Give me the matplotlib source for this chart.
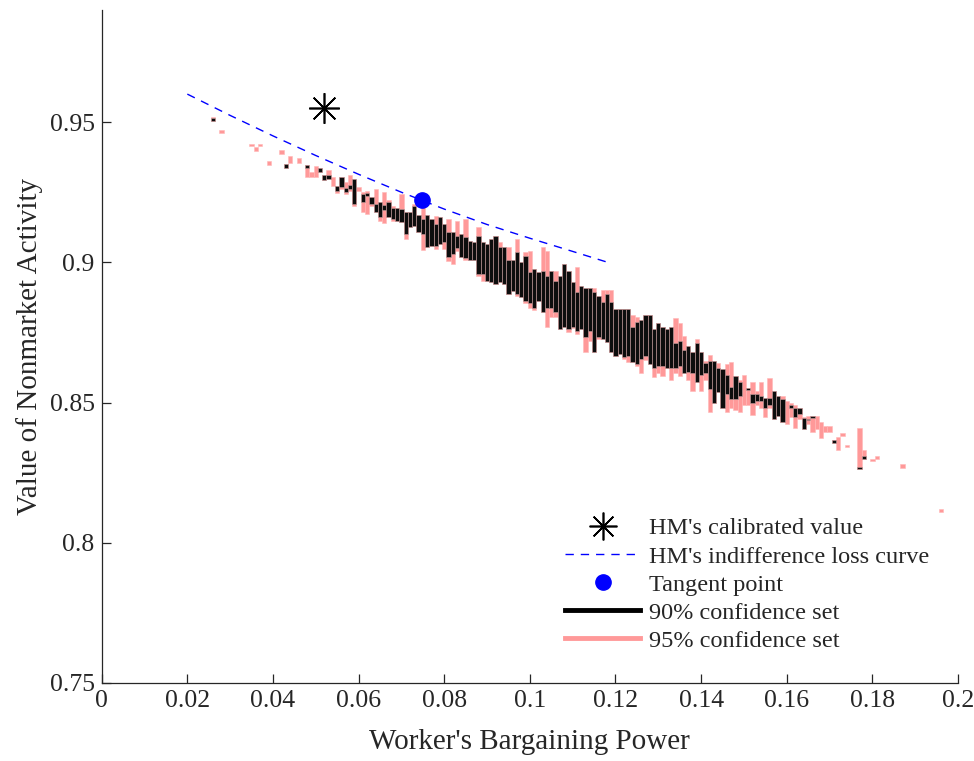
import numpy as np
import matplotlib
matplotlib.use('Agg')
import matplotlib.pyplot as plt
from matplotlib.lines import Line2D
from matplotlib.ticker import FuncFormatter

plt.rcParams['font.family'] = ['Liberation Serif', 'DejaVu Serif']
plt.rcParams['font.size'] = 18.5

# 95% confidence set: x, lower, upper
x95 = [0.026, 0.028, 0.035, 0.036, 0.037, 0.039, 0.042, 0.043, 0.044, 0.046,
       0.048, 0.049, 0.050, 0.051, 0.052, 0.053, 0.054, 0.055, 0.056, 0.057,
       0.058, 0.059, 0.060, 0.061, 0.062, 0.063, 0.064, 0.065, 0.066, 0.067,
       0.068, 0.069, 0.070, 0.071, 0.072, 0.073, 0.074, 0.075, 0.076, 0.077,
       0.078, 0.079, 0.080, 0.081, 0.082, 0.083, 0.084, 0.085, 0.086, 0.087,
       0.088, 0.089, 0.090, 0.091, 0.092, 0.093, 0.094, 0.095, 0.096, 0.097,
       0.098, 0.099, 0.100, 0.101, 0.102, 0.103, 0.104, 0.105, 0.106, 0.107,
       0.108, 0.109, 0.110, 0.111, 0.112, 0.113, 0.114, 0.115, 0.116, 0.117,
       0.118, 0.119, 0.120, 0.121, 0.122, 0.123, 0.124, 0.125, 0.126, 0.127,
       0.128, 0.129, 0.130, 0.131, 0.132, 0.133, 0.134, 0.135, 0.136, 0.137,
       0.138, 0.139, 0.140, 0.141, 0.142, 0.143, 0.144, 0.145, 0.146, 0.147,
       0.148, 0.149, 0.150, 0.151, 0.152, 0.153, 0.154, 0.155, 0.156, 0.157,
       0.158, 0.159, 0.160, 0.161, 0.162, 0.163, 0.164, 0.165, 0.166, 0.167,
       0.168, 0.169, 0.170, 0.171, 0.172, 0.173, 0.174, 0.177, 0.178, 0.180,
       0.181, 0.187, 0.196]
lo95 = [0.9503, 0.9463, 0.9414, 0.9396, 0.9414, 0.9346, 0.9385, 0.9335, 0.9353, 0.9353,
        0.9303, 0.9303, 0.9303, 0.9321, 0.9292, 0.9296, 0.9271, 0.9246, 0.9260, 0.9242,
        0.9253, 0.9200, 0.9253, 0.9178, 0.9171, 0.9200, 0.9178, 0.9146, 0.9140, 0.9160,
        0.9146, 0.9146, 0.9143, 0.9082, 0.9125, 0.9128, 0.9107, 0.9043, 0.9053, 0.9057,
        0.9046, 0.9064, 0.9046, 0.9004, 0.8993, 0.9039, 0.9018, 0.9010, 0.9010, 0.9010,
        0.8950, 0.8932, 0.8932, 0.8929, 0.8922, 0.8929, 0.8922, 0.8886, 0.8897, 0.8880,
        0.8875, 0.8854, 0.8836, 0.8829, 0.8861, 0.8822, 0.8771, 0.8804, 0.8804, 0.8761,
        0.8771, 0.8750, 0.8765, 0.8743, 0.8761, 0.8682, 0.8718, 0.8682, 0.8725, 0.8725,
        0.8715, 0.8682, 0.8665, 0.8672, 0.8654, 0.8643, 0.8643, 0.8630, 0.8604, 0.8651,
        0.8636, 0.8590, 0.8604, 0.8593, 0.8625, 0.8582, 0.8607, 0.8593, 0.8607, 0.8582,
        0.8543, 0.8572, 0.8543, 0.8580, 0.8468, 0.8500, 0.8536, 0.8482, 0.8468, 0.8482,
        0.8475, 0.8468, 0.8490, 0.8490, 0.8454, 0.8490, 0.8482, 0.8447, 0.8482, 0.8441,
        0.8451, 0.8430, 0.8422, 0.8447, 0.8411, 0.8440, 0.8404, 0.8422, 0.8394, 0.8404,
        0.8373, 0.8394, 0.8394, 0.8355, 0.8330, 0.8380, 0.8340, 0.8262, 0.8300, 0.8290,
        0.8300, 0.8266, 0.8110]
hi95 = [0.9520, 0.9471, 0.9421, 0.9410, 0.9421, 0.9360, 0.9399, 0.9349, 0.9381, 0.9371,
        0.9346, 0.9321, 0.9342, 0.9338, 0.9310, 0.9331, 0.9303, 0.9271, 0.9303, 0.9285,
        0.9310, 0.9296, 0.9267, 0.9250, 0.9253, 0.9232, 0.9260, 0.9217, 0.9250, 0.9221,
        0.9200, 0.9193, 0.9242, 0.9178, 0.9178, 0.9207, 0.9170, 0.9207, 0.9170, 0.9153,
        0.9164, 0.9160, 0.9135, 0.9153, 0.9110, 0.9146, 0.9100, 0.9153, 0.9075, 0.9071,
        0.9125, 0.9071, 0.9064, 0.9082, 0.9093, 0.9072, 0.9053, 0.9053, 0.9010, 0.9082,
        0.9000, 0.9036, 0.9039, 0.8975, 0.8964, 0.9053, 0.9039, 0.8968, 0.8968, 0.8950,
        0.8993, 0.8968, 0.8929, 0.8982, 0.8914, 0.8910, 0.8910, 0.8910, 0.8879, 0.8900,
        0.8900, 0.8900, 0.8832, 0.8832, 0.8832, 0.8832, 0.8814, 0.8804, 0.8793, 0.8811,
        0.8811, 0.8761, 0.8782, 0.8771, 0.8761, 0.8771, 0.8800, 0.8782, 0.8736, 0.8700,
        0.8679, 0.8725, 0.8679, 0.8650, 0.8668, 0.8650, 0.8640, 0.8618, 0.8636, 0.8643,
        0.8593, 0.8579, 0.8600, 0.8552, 0.8575, 0.8540, 0.8572, 0.8518, 0.8589, 0.8541,
        0.8522, 0.8525, 0.8504, 0.8500, 0.8493, 0.8482, 0.8450, 0.8451, 0.8451, 0.8451,
        0.8430, 0.8418, 0.8418, 0.8366, 0.8377, 0.8390, 0.8350, 0.8411, 0.8330, 0.8300,
        0.8310, 0.8280, 0.8120]

# 90% confidence set: x, lower, upper
x90 = [0.026, 0.043, 0.048, 0.051, 0.052, 0.053, 0.055, 0.056, 0.057, 0.058,
       0.059, 0.061, 0.062, 0.063, 0.064, 0.065, 0.066, 0.067, 0.068, 0.069,
       0.070, 0.071, 0.072, 0.073, 0.074, 0.075, 0.076, 0.077, 0.078, 0.079,
       0.080, 0.081, 0.082, 0.083, 0.084, 0.085, 0.086, 0.087, 0.088, 0.089,
       0.090, 0.091, 0.092, 0.093, 0.094, 0.095, 0.096, 0.097, 0.098, 0.099,
       0.100, 0.101, 0.102, 0.103, 0.104, 0.105, 0.106, 0.107, 0.108, 0.109,
       0.110, 0.111, 0.112, 0.113, 0.114, 0.115, 0.116, 0.117, 0.118, 0.119,
       0.120, 0.121, 0.122, 0.123, 0.124, 0.125, 0.126, 0.127, 0.128, 0.129,
       0.130, 0.131, 0.132, 0.133, 0.134, 0.135, 0.136, 0.137, 0.138, 0.139,
       0.140, 0.141, 0.142, 0.143, 0.144, 0.145, 0.146, 0.147, 0.148, 0.149,
       0.151, 0.152, 0.153, 0.154, 0.155, 0.156, 0.157, 0.158, 0.159, 0.161,
       0.162, 0.163, 0.164, 0.165, 0.166, 0.171, 0.177, 0.178]
lo90 = [0.9505, 0.9335, 0.9335, 0.9321, 0.9292, 0.9296, 0.9253, 0.9267, 0.9250, 0.9262,
        0.9207, 0.9214, 0.9235, 0.9207, 0.9178, 0.9160, 0.9185, 0.9160, 0.9153, 0.9146,
        0.9143, 0.9100, 0.9125, 0.9128, 0.9107, 0.9100, 0.9053, 0.9057, 0.9057, 0.9064,
        0.9071, 0.9020, 0.9029, 0.9050, 0.9018, 0.9014, 0.9010, 0.9010, 0.8957, 0.8960,
        0.8932, 0.8929, 0.8922, 0.8929, 0.8922, 0.8886, 0.8897, 0.8886, 0.8875, 0.8861,
        0.8854, 0.8836, 0.8861, 0.8822, 0.8836, 0.8836, 0.8822, 0.8761, 0.8771, 0.8761,
        0.8771, 0.8754, 0.8761, 0.8733, 0.8754, 0.8682, 0.8733, 0.8725, 0.8715, 0.8682,
        0.8665, 0.8672, 0.8661, 0.8665, 0.8646, 0.8636, 0.8654, 0.8665, 0.8636, 0.8622,
        0.8630, 0.8630, 0.8625, 0.8625, 0.8622, 0.8630, 0.8607, 0.8610, 0.8607, 0.8572,
        0.8600, 0.8607, 0.8547, 0.8500, 0.8536, 0.8482, 0.8529, 0.8511, 0.8511, 0.8522,
        0.8545, 0.8500, 0.8504, 0.8504, 0.8482, 0.8493, 0.8441, 0.8451, 0.8430, 0.8482,
        0.8447, 0.8458, 0.8404, 0.8438, 0.8445, 0.8355, 0.8262, 0.8300]
hi90 = [0.9515, 0.9349, 0.9346, 0.9338, 0.9310, 0.9310, 0.9271, 0.9303, 0.9264, 0.9275,
        0.9296, 0.9242, 0.9246, 0.9232, 0.9207, 0.9217, 0.9203, 0.9214, 0.9193, 0.9193,
        0.9189, 0.9178, 0.9178, 0.9200, 0.9170, 0.9153, 0.9170, 0.9153, 0.9135, 0.9160,
        0.9135, 0.9110, 0.9110, 0.9093, 0.9100, 0.9089, 0.9075, 0.9071, 0.9093, 0.9071,
        0.9064, 0.9082, 0.9093, 0.9053, 0.9053, 0.9010, 0.9010, 0.9036, 0.9000, 0.9021,
        0.8964, 0.8975, 0.8964, 0.8968, 0.8950, 0.8968, 0.8932, 0.8950, 0.8993, 0.8968,
        0.8929, 0.8893, 0.8914, 0.8910, 0.8910, 0.8893, 0.8879, 0.8857, 0.8886, 0.8857,
        0.8832, 0.8832, 0.8832, 0.8832, 0.8771, 0.8789, 0.8793, 0.8811, 0.8811, 0.8761,
        0.8782, 0.8771, 0.8761, 0.8771, 0.8714, 0.8718, 0.8689, 0.8700, 0.8679, 0.8714,
        0.8679, 0.8640, 0.8647, 0.8650, 0.8622, 0.8618, 0.8600, 0.8557, 0.8593, 0.8575,
        0.8552, 0.8529, 0.8532, 0.8525, 0.8518, 0.8518, 0.8541, 0.8522, 0.8511, 0.8493,
        0.8482, 0.8482, 0.8444, 0.8442, 0.8451, 0.8366, 0.8270, 0.8310]

# HM's indifference loss curve
curve_x = [0.020, 0.030, 0.040, 0.050, 0.060, 0.070, 0.080, 0.090, 0.100, 0.110, 0.118]
curve_y = [0.9600, 0.9524, 0.9451, 0.9381, 0.9314, 0.9250, 0.9190, 0.9135, 0.9086, 0.9039, 0.9001]

hm_point = (0.052, 0.955)
tangent_point = (0.0747, 0.9221)

pink = '#ff9999'
dark = '#262626'
star = (8, 2, 0)  # MATLAB-style asterisk

fig = plt.figure(figsize=(9.74, 7.61), dpi=100)
ax = fig.add_axes([0.1044, 0.1025, 0.8792, 0.8844])

lo95 = np.array(lo95)
hi95 = np.array(hi95)
lo90 = np.array(lo90)
hi90 = np.array(hi90)

ax.bar(x95, hi95 - lo95, bottom=lo95, width=0.001, color=pink,
       edgecolor='#ffb8b8', linewidth=0.4, zorder=2)
ax.bar(x90, hi90 - lo90, bottom=lo90, width=0.001, color='#0d0d0d',
       edgecolor='#c8a0a0', linewidth=0.4, zorder=3)

ax.plot(curve_x, curve_y, color='blue', linestyle=(0, (6, 5)), linewidth=1, zorder=4)
ax.plot(*hm_point, marker=star, color='black', markersize=22, markeredgewidth=1.2,
        linestyle='none', zorder=5)
ax.plot(*tangent_point, marker='o', color='blue', markersize=11, linestyle='none', zorder=5)

ax.set_xlim(0, 0.2)
ax.set_ylim(0.75, 0.99)
ax.set_xticks(np.arange(0, 0.201, 0.02))
ax.set_yticks([0.75, 0.8, 0.85, 0.9, 0.95])
ax.xaxis.set_major_formatter(FuncFormatter(lambda v, p: '%g' % round(v, 3)))
ax.yaxis.set_major_formatter(FuncFormatter(lambda v, p: '%g' % round(v, 3)))

for s in ['top', 'right']:
    ax.spines[s].set_visible(False)
for s in ['left', 'bottom']:
    ax.spines[s].set_color(dark)
    ax.spines[s].set_linewidth(0.9)
ax.tick_params(direction='in', length=6.5, width=0.9, colors=dark, labelsize=18.5, pad=5)

ax.set_xlabel("Worker's Bargaining Power", fontsize=21, color=dark, labelpad=12)
ax.set_ylabel('Value of Nonmarket Activity', fontsize=21, color=dark, labelpad=5)

handles = [
    Line2D([], [], marker=star, color='black', markersize=20, markeredgewidth=1.2, linestyle='none'),
    Line2D([], [], color='blue', linestyle=(0, (6, 5)), linewidth=1),
    Line2D([], [], marker='o', color='blue', markersize=11, linestyle='none'),
    Line2D([], [], color='black', linewidth=3.5),
    Line2D([], [], color=pink, linewidth=3.5),
]
labels = ["HM's calibrated value", "HM's indifference loss curve", 'Tangent point',
          '90% confidence set', '95% confidence set']
leg = ax.legend(handles, labels, loc='upper left', bbox_to_anchor=(0.541, 0.246),
                frameon=False, fontsize=17.5, handlelength=3.1, handletextpad=0.35,
                labelspacing=0.25, borderpad=0, borderaxespad=0)
for t in leg.get_texts():
    t.set_color(dark)

fig.savefig('out.png', dpi=100)
